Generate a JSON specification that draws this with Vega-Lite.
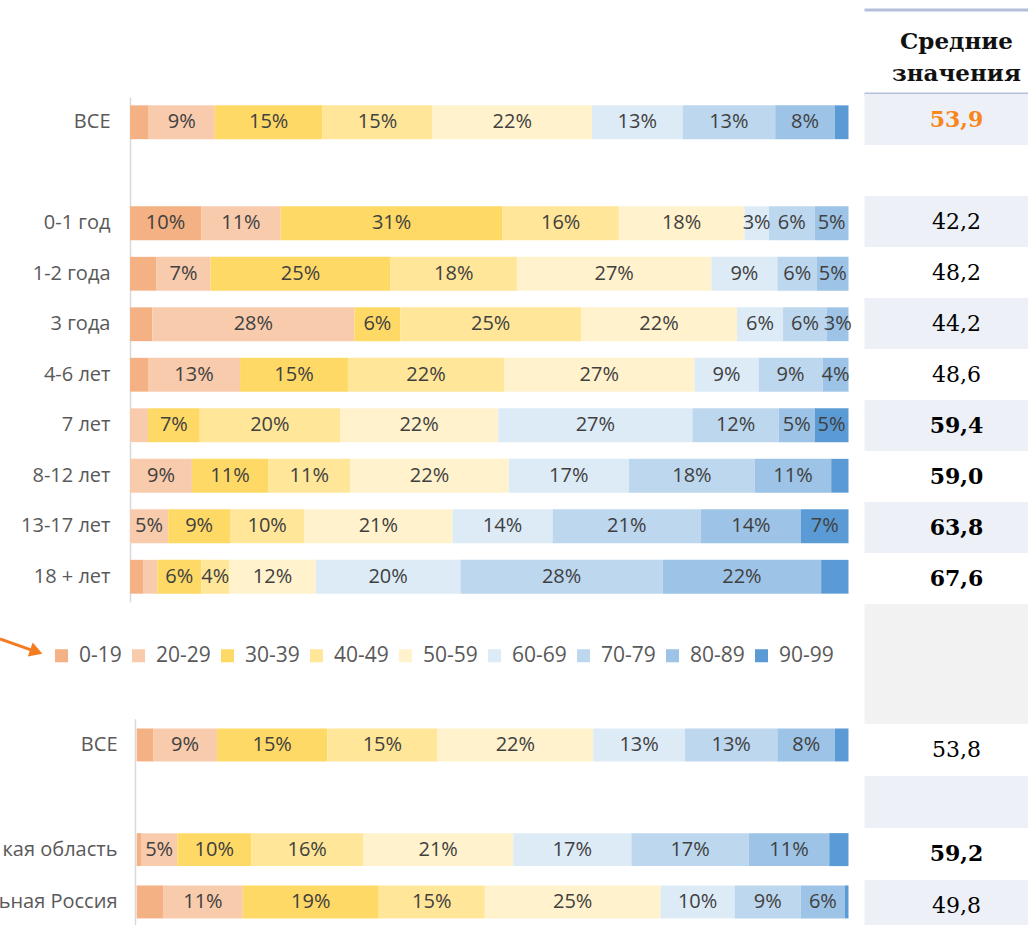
{
  "$schema": "https://vega.github.io/schema/vega-lite/v6.json",
  "autosize": {"type": "none"},
  "padding": {"left": 130, "top": 10, "right": 898, "bottom": 915},
  "background": "white",
  "columns": 2,
  "spacing": {"row": 0, "column": 15.5},
  "bounds": "flush",
  "datasets": {
    "segTop": [
      {"row": "ВСЕ", "group": "0-19", "pct": 2.6, "label": ""},
      {"row": "ВСЕ", "group": "20-29", "pct": 9.2, "label": "9%"},
      {"row": "ВСЕ", "group": "30-39", "pct": 15.0, "label": "15%"},
      {"row": "ВСЕ", "group": "40-49", "pct": 15.3, "label": "15%"},
      {"row": "ВСЕ", "group": "50-59", "pct": 22.2, "label": "22%"},
      {"row": "ВСЕ", "group": "60-69", "pct": 12.6, "label": "13%"},
      {"row": "ВСЕ", "group": "70-79", "pct": 12.9, "label": "13%"},
      {"row": "ВСЕ", "group": "80-89", "pct": 8.3, "label": "8%"},
      {"row": "ВСЕ", "group": "90-99", "pct": 1.9, "label": ""},
      {"row": "0-1 год", "group": "0-19", "pct": 9.9, "label": "10%"},
      {"row": "0-1 год", "group": "20-29", "pct": 11.1, "label": "11%"},
      {"row": "0-1 год", "group": "30-39", "pct": 30.9, "label": "31%"},
      {"row": "0-1 год", "group": "40-49", "pct": 16.2, "label": "16%"},
      {"row": "0-1 год", "group": "50-59", "pct": 17.5, "label": "18%"},
      {"row": "0-1 год", "group": "60-69", "pct": 3.4, "label": "3%"},
      {"row": "0-1 год", "group": "70-79", "pct": 6.4, "label": "6%"},
      {"row": "0-1 год", "group": "80-89", "pct": 4.7, "label": "5%"},
      {"row": "1-2 года", "group": "0-19", "pct": 3.7, "label": ""},
      {"row": "1-2 года", "group": "20-29", "pct": 7.5, "label": "7%"},
      {"row": "1-2 года", "group": "30-39", "pct": 25.1, "label": "25%"},
      {"row": "1-2 года", "group": "40-49", "pct": 17.6, "label": "18%"},
      {"row": "1-2 года", "group": "50-59", "pct": 27.1, "label": "27%"},
      {"row": "1-2 года", "group": "60-69", "pct": 9.2, "label": "9%"},
      {"row": "1-2 года", "group": "70-79", "pct": 5.5, "label": "6%"},
      {"row": "1-2 года", "group": "80-89", "pct": 4.4, "label": "5%"},
      {"row": "3 года", "group": "0-19", "pct": 3.1, "label": ""},
      {"row": "3 года", "group": "20-29", "pct": 28.1, "label": "28%"},
      {"row": "3 года", "group": "30-39", "pct": 6.4, "label": "6%"},
      {"row": "3 года", "group": "40-49", "pct": 25.1, "label": "25%"},
      {"row": "3 года", "group": "50-59", "pct": 21.7, "label": "22%"},
      {"row": "3 года", "group": "60-69", "pct": 6.4, "label": "6%"},
      {"row": "3 года", "group": "70-79", "pct": 6.1, "label": "6%"},
      {"row": "3 года", "group": "80-89", "pct": 3.0, "label": "3%"},
      {"row": "4-6 лет", "group": "0-19", "pct": 2.5, "label": ""},
      {"row": "4-6 лет", "group": "20-29", "pct": 12.8, "label": "13%"},
      {"row": "4-6 лет", "group": "30-39", "pct": 15.0, "label": "15%"},
      {"row": "4-6 лет", "group": "40-49", "pct": 21.7, "label": "22%"},
      {"row": "4-6 лет", "group": "50-59", "pct": 26.5, "label": "27%"},
      {"row": "4-6 лет", "group": "60-69", "pct": 8.9, "label": "9%"},
      {"row": "4-6 лет", "group": "70-79", "pct": 8.9, "label": "9%"},
      {"row": "4-6 лет", "group": "80-89", "pct": 3.6, "label": "4%"},
      {"row": "7 лет", "group": "20-29", "pct": 2.5, "label": ""},
      {"row": "7 лет", "group": "30-39", "pct": 7.2, "label": "7%"},
      {"row": "7 лет", "group": "40-49", "pct": 19.5, "label": "20%"},
      {"row": "7 лет", "group": "50-59", "pct": 22.0, "label": "22%"},
      {"row": "7 лет", "group": "60-69", "pct": 27.0, "label": "27%"},
      {"row": "7 лет", "group": "70-79", "pct": 12.0, "label": "12%"},
      {"row": "7 лет", "group": "80-89", "pct": 5.0, "label": "5%"},
      {"row": "7 лет", "group": "90-99", "pct": 4.7, "label": "5%"},
      {"row": "8-12 лет", "group": "20-29", "pct": 8.6, "label": "9%"},
      {"row": "8-12 лет", "group": "30-39", "pct": 10.6, "label": "11%"},
      {"row": "8-12 лет", "group": "40-49", "pct": 11.4, "label": "11%"},
      {"row": "8-12 лет", "group": "50-59", "pct": 22.0, "label": "22%"},
      {"row": "8-12 лет", "group": "60-69", "pct": 16.7, "label": "17%"},
      {"row": "8-12 лет", "group": "70-79", "pct": 17.5, "label": "18%"},
      {"row": "8-12 лет", "group": "80-89", "pct": 10.6, "label": "11%"},
      {"row": "8-12 лет", "group": "90-99", "pct": 2.4, "label": ""},
      {"row": "13-17 лет", "group": "20-29", "pct": 5.3, "label": "5%"},
      {"row": "13-17 лет", "group": "30-39", "pct": 8.6, "label": "9%"},
      {"row": "13-17 лет", "group": "40-49", "pct": 10.3, "label": "10%"},
      {"row": "13-17 лет", "group": "50-59", "pct": 20.6, "label": "21%"},
      {"row": "13-17 лет", "group": "60-69", "pct": 13.9, "label": "14%"},
      {"row": "13-17 лет", "group": "70-79", "pct": 20.6, "label": "21%"},
      {"row": "13-17 лет", "group": "80-89", "pct": 13.9, "label": "14%"},
      {"row": "13-17 лет", "group": "90-99", "pct": 6.6, "label": "7%"},
      {"row": "18 + лет", "group": "0-19", "pct": 1.9, "label": ""},
      {"row": "18 + лет", "group": "20-29", "pct": 1.9, "label": ""},
      {"row": "18 + лет", "group": "30-39", "pct": 6.1, "label": "6%"},
      {"row": "18 + лет", "group": "40-49", "pct": 3.9, "label": "4%"},
      {"row": "18 + лет", "group": "50-59", "pct": 12.0, "label": "12%"},
      {"row": "18 + лет", "group": "60-69", "pct": 20.1, "label": "20%"},
      {"row": "18 + лет", "group": "70-79", "pct": 28.1, "label": "28%"},
      {"row": "18 + лет", "group": "80-89", "pct": 22.0, "label": "22%"},
      {"row": "18 + лет", "group": "90-99", "pct": 3.8, "label": ""}
    ],
    "segBot": [
      {"row": "ВСЕ", "group": "0-19", "pct": 2.3, "label": ""},
      {"row": "ВСЕ", "group": "20-29", "pct": 9.0, "label": "9%"},
      {"row": "ВСЕ", "group": "30-39", "pct": 15.5, "label": "15%"},
      {"row": "ВСЕ", "group": "40-49", "pct": 15.5, "label": "15%"},
      {"row": "ВСЕ", "group": "50-59", "pct": 21.9, "label": "22%"},
      {"row": "ВСЕ", "group": "60-69", "pct": 12.9, "label": "13%"},
      {"row": "ВСЕ", "group": "70-79", "pct": 13.0, "label": "13%"},
      {"row": "ВСЕ", "group": "80-89", "pct": 8.1, "label": "8%"},
      {"row": "ВСЕ", "group": "90-99", "pct": 1.9, "label": ""},
      {"row": "кая область", "group": "0-19", "pct": 0.6, "label": ""},
      {"row": "кая область", "group": "20-29", "pct": 5.1, "label": "5%"},
      {"row": "кая область", "group": "30-39", "pct": 10.4, "label": "10%"},
      {"row": "кая область", "group": "40-49", "pct": 15.7, "label": "16%"},
      {"row": "кая область", "group": "50-59", "pct": 21.1, "label": "21%"},
      {"row": "кая область", "group": "60-69", "pct": 16.6, "label": "17%"},
      {"row": "кая область", "group": "70-79", "pct": 16.5, "label": "17%"},
      {"row": "кая область", "group": "80-89", "pct": 11.3, "label": "11%"},
      {"row": "кая область", "group": "90-99", "pct": 2.7, "label": ""},
      {"row": "ьная Россия", "group": "0-19", "pct": 3.7, "label": ""},
      {"row": "ьная Россия", "group": "20-29", "pct": 11.2, "label": "11%"},
      {"row": "ьная Россия", "group": "30-39", "pct": 19.1, "label": "19%"},
      {"row": "ьная Россия", "group": "40-49", "pct": 14.9, "label": "15%"},
      {"row": "ьная Россия", "group": "50-59", "pct": 24.7, "label": "25%"},
      {"row": "ьная Россия", "group": "60-69", "pct": 10.4, "label": "10%"},
      {"row": "ьная Россия", "group": "70-79", "pct": 9.3, "label": "9%"},
      {"row": "ьная Россия", "group": "80-89", "pct": 6.2, "label": "6%"},
      {"row": "ьная Россия", "group": "90-99", "pct": 0.5, "label": ""}
    ],
    "meanTop": [
      {"row": "ВСЕ", "mean": 53.9},
      {"row": "", "mean": null},
      {"row": "0-1 год", "mean": 42.2},
      {"row": "1-2 года", "mean": 48.2},
      {"row": "3 года", "mean": 44.2},
      {"row": "4-6 лет", "mean": 48.6},
      {"row": "7 лет", "mean": 59.4},
      {"row": "8-12 лет", "mean": 59.0},
      {"row": "13-17 лет", "mean": 63.8},
      {"row": "18 + лет", "mean": 67.6}
    ],
    "meanBot": [
      {"row": "ВСЕ", "mean": 53.8},
      {"row": "", "mean": null},
      {"row": "кая область", "mean": 59.2},
      {"row": "ьная Россия", "mean": 49.8}
    ]
  },
  "concat": [
    {
      "width": 718.5, "height": 84,
      "data": {"values": [{}]},
      "mark": {"type": "text", "text": ""},
      "encoding": {}
    },
    {
      "width": 164, "height": 84,
      "data": {"values": [{"col": "Средние значения"}]},
      "layer": [
        {
          "mark": {"type": "rule", "color": "#B4BFD9", "strokeWidth": 3},
          "encoding": {"y": {"field": "col", "type": "nominal", "bandPosition": 0, "axis": null, "scale": {"paddingInner": 0, "paddingOuter": 0}}}
        },
        {
          "mark": {"type": "rule", "color": "#B4BFD9", "strokeWidth": 3},
          "encoding": {"y": {"field": "col", "type": "nominal", "bandPosition": 1, "axis": null, "scale": {"paddingInner": 0, "paddingOuter": 0}}}
        },
        {
          "mark": {"type": "text", "font": "DejaVu Serif", "fontWeight": "bold", "fontSize": 23, "lineBreak": " ", "lineHeight": 32, "dx": 10, "dy": -10, "color": "#111111", "baseline": "middle"},
          "encoding": {"text": {"field": "col"}}
        }
      ]
    },
    {
      "width": 718.5, "height": 510,
      "data": {"name": "segTop"},
      "encoding": {
        "y": {
          "field": "row", "type": "nominal", "title": null,
          "scale": {"domain": ["ВСЕ", "", "0-1 год", "1-2 года", "3 года", "4-6 лет", "7 лет", "8-12 лет", "13-17 лет", "18 + лет"], "range": [3, 508], "paddingInner": 0, "paddingOuter": 0},
          "axis": {"ticks": false, "labelPadding": 20, "labelFont": "Open Sans", "labelFontSize": 20, "labelColor": "#595959", "domainColor": "#D9D9D9", "domainWidth": 1.5, "grid": false, "labelLimit": 400}
        },
        "order": {"field": "group", "sort": "ascending"}
      },
      "layer": [
        {
          "mark": {"type": "bar", "height": {"band": 0.67}},
          "encoding": {
            "x": {"field": "pct", "type": "quantitative", "stack": "normalize", "axis": null, "scale": {"domain": [0, 1]}},
            "color": {
              "field": "group", "type": "nominal",
              "scale": {"domain": ["0-19", "20-29", "30-39", "40-49", "50-59", "60-69", "70-79", "80-89", "90-99"], "range": ["#F4B183", "#F8CBAD", "#FFD966", "#FFE699", "#FFF2CC", "#DDEBF7", "#BDD7EE", "#9DC3E6", "#5B9BD5"]},
              "legend": {"orient": "none", "legendX": -79, "legendY": 635, "direction": "horizontal", "title": null, "symbolType": "square", "symbolSize": 170, "symbolStrokeWidth": 0, "labelFont": "Open Sans", "labelFontSize": 21, "labelColor": "#595959", "labelOffset": 7, "columnPadding": 6, "padding": 0}
            }
          }
        },
        {
          "mark": {"type": "text", "font": "Open Sans", "fontSize": 20, "color": "#404040", "baseline": "middle", "align": "center"},
          "encoding": {
            "x": {"field": "pct", "type": "quantitative", "stack": "normalize", "bandPosition": 0.5},
            "detail": {"field": "group", "type": "nominal"},
            "text": {"field": "label", "type": "nominal"}
          }
        }
      ]
    },
    {
      "width": 164, "height": 510,
      "data": {"name": "meanTop"},
      "encoding": {
        "y": {"field": "row", "type": "nominal", "axis": null, "scale": {"domain": ["ВСЕ", "", "0-1 год", "1-2 года", "3 года", "4-6 лет", "7 лет", "8-12 лет", "13-17 лет", "18 + лет"], "paddingInner": 0, "paddingOuter": 0}}
      },
      "layer": [
        {
          "transform": [{"filter": {"field": "row", "oneOf": ["ВСЕ", "0-1 год", "3 года", "7 лет", "13-17 лет"]}}],
          "mark": {"type": "rect", "color": "#EDF0F6"}
        },
        {
          "transform": [{"filter": "datum.row === 'ВСЕ'"}],
          "mark": {"type": "text", "font": "DejaVu Serif", "fontWeight": "bold", "fontSize": 22, "color": "#F7861C", "dx": 10},
          "encoding": {"text": {"field": "mean", "type": "quantitative", "format": ".1f"}}
        },
        {
          "transform": [{"filter": "datum.row !== 'ВСЕ' && datum.mean != null && datum.mean > 54"}],
          "mark": {"type": "text", "font": "DejaVu Serif", "fontWeight": "bold", "fontSize": 22, "color": "#000000", "dx": 10},
          "encoding": {"text": {"field": "mean", "type": "quantitative", "format": ".1f"}}
        },
        {
          "transform": [{"filter": "datum.row !== 'ВСЕ' && datum.mean != null && datum.mean < 54"}],
          "mark": {"type": "text", "font": "DejaVu Serif", "fontSize": 22, "color": "#000000", "dx": 10},
          "encoding": {"text": {"field": "mean", "type": "quantitative", "format": ".1f"}}
        }
      ]
    },
    {
      "width": 718.5, "height": 120,
      "encoding": {
        "x": {"field": "ax", "type": "quantitative", "axis": null, "scale": {"domain": [0, 100]}},
        "y": {"field": "ay", "type": "quantitative", "axis": null, "scale": {"domain": [0, 120], "reverse": true}}
      },
      "layer": [
        {
          "data": {"values": [{"ax": -18.1, "ay": 35}, {"ax": -13.2, "ay": 47.3}]},
          "mark": {"type": "line", "color": "#F47B20", "strokeWidth": 3}
        },
        {
          "data": {"values": [{"ax": -13.04, "ay": 47.7}]},
          "mark": {"type": "point", "shape": "triangle-right", "filled": true, "size": 220, "angle": 19.5, "color": "#F47B20", "opacity": 1}
        }
      ]
    },
    {
      "width": 164, "height": 120,
      "view": {"fill": "#F2F2F2", "stroke": null},
      "data": {"values": [{}]},
      "mark": {"type": "text", "text": ""},
      "encoding": {}
    },
    {
      "width": 718.5, "height": 201,
      "data": {"name": "segBot"},
      "encoding": {
        "y": {
          "field": "row", "type": "nominal", "title": null,
          "scale": {"domain": ["ВСЕ", "", "кая область", "ьная Россия"], "range": [-5.2, 204.1], "paddingInner": 0, "paddingOuter": 0},
          "axis": {"ticks": false, "offset": -5, "labelPadding": 18, "labelFont": "Open Sans", "labelFontSize": 20, "labelColor": "#595959", "domainColor": "#D9D9D9", "domainWidth": 1.5, "grid": false, "labelLimit": 400}
        },
        "order": {"field": "group", "sort": "ascending"}
      },
      "layer": [
        {
          "mark": {"type": "bar", "height": {"band": 0.63}},
          "encoding": {
            "x": {"field": "pct", "type": "quantitative", "stack": "normalize", "axis": null, "scale": {"domain": [0, 1], "range": [6.7, 718.5]}},
            "color": {"field": "group", "type": "nominal"}
          }
        },
        {
          "mark": {"type": "text", "font": "Open Sans", "fontSize": 20, "color": "#404040", "baseline": "middle", "align": "center"},
          "encoding": {
            "x": {"field": "pct", "type": "quantitative", "stack": "normalize", "bandPosition": 0.5},
            "detail": {"field": "group", "type": "nominal"},
            "text": {"field": "label", "type": "nominal"}
          }
        }
      ]
    },
    {
      "width": 164, "height": 201,
      "data": {"name": "meanBot"},
      "encoding": {
        "y": {"field": "row", "type": "nominal", "axis": null, "scale": {"domain": ["ВСЕ", "", "кая область", "ьная Россия"], "range": [0, 208], "paddingInner": 0, "paddingOuter": 0}}
      },
      "layer": [
        {
          "transform": [{"filter": {"field": "row", "oneOf": ["", "ьная Россия"]}}],
          "mark": {"type": "rect", "color": "#EDF0F6"}
        },
        {
          "transform": [{"filter": "datum.mean != null && datum.mean > 54"}],
          "mark": {"type": "text", "font": "DejaVu Serif", "fontWeight": "bold", "fontSize": 22, "color": "#000000", "dx": 10},
          "encoding": {"text": {"field": "mean", "type": "quantitative", "format": ".1f"}}
        },
        {
          "transform": [{"filter": "datum.mean != null && datum.mean < 54"}],
          "mark": {"type": "text", "font": "DejaVu Serif", "fontSize": 22, "color": "#000000", "dx": 10},
          "encoding": {"text": {"field": "mean", "type": "quantitative", "format": ".1f"}}
        }
      ]
    }
  ],
  "config": {
    "view": {"stroke": null},
    "font": "Open Sans",
    "locale": {"number": {"decimal": ",", "thousands": " ", "grouping": [3], "currency": ["", ""]}},
    "axis": {"grid": false}
  }
}
